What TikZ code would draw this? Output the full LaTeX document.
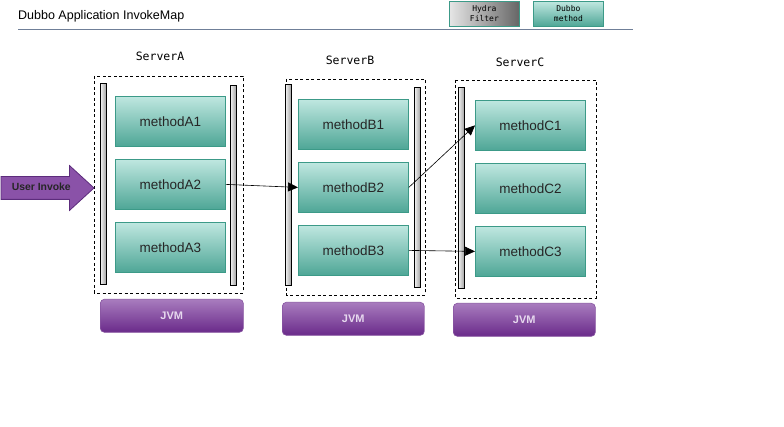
\documentclass[tikz,border=0pt]{standalone}
\usepackage{fontspec}
\setmainfont{Liberation Sans}
\newfontfamily\monofont{DejaVu Sans Mono}
\usetikzlibrary{positioning,shapes.arrows,arrows.meta}

\definecolor{methodtop}{HTML}{BFE7E0}
\definecolor{methodbot}{HTML}{4EA696}
\definecolor{methodline}{HTML}{3C9A88}
\definecolor{jvmtop}{HTML}{A87CBE}
\definecolor{jvmbot}{HTML}{6A2A8A}
\definecolor{jvmtext}{HTML}{E6D8EE}
\definecolor{invokefill}{HTML}{8A52A8}
\definecolor{invokeline}{HTML}{5C2C7C}
\definecolor{titleline}{HTML}{6F7F98}

\begin{document}
\begin{tikzpicture}[x=1pt,y=-1pt,
                    method node/.style={draw=methodline,line width=0.8pt,top color=methodtop,bottom color=methodbot,
                                        minimum width=110pt,minimum height=50pt,inner sep=0pt,anchor=north west,
                                        font=\fontsize{13.5}{16}\selectfont,text=black!85},
                    bar node/.style={draw=black,line width=0.8pt,left color=gray!10,right color=gray!75,
                                     minimum width=6pt,minimum height=201pt,inner sep=0pt,anchor=north west},
                    jvm node/.style={draw=jvmbot!80,line width=0.6pt,rounded corners=4pt,top color=jvmtop,bottom color=jvmbot,
                                     minimum width=142pt,minimum height=33pt,inner sep=0pt,anchor=north west,
                                     font=\fontsize{11}{13}\selectfont\bfseries,text=jvmtext},
                    server box/.style={draw=black,line width=0.8pt,dash pattern=on 3pt off 2.5pt},
                    server label/.style={font=\monofont\fontsize{11.5}{13}\selectfont},
                    legend node/.style={draw=methodline,line width=0.8pt,minimum width=70pt,minimum height=25pt,inner sep=0pt,
                                        anchor=north west,align=center,font=\monofont\fontsize{8}{10}\selectfont},
                    call/.style={draw=black,line width=0.6pt,-{Triangle[length=10pt,width=9pt]}}]

  \useasboundingbox (0,0) rectangle (784,427);

  % header
  \node[anchor=west,inner sep=0pt,font=\fontsize{12.5}{15}\selectfont] (title) at (18,16) {Dubbo Application InvokeMap};
  \draw[titleline,line width=0.8pt] (18,29) -- (633,29);
  \node[legend node,left color=gray!20,right color=gray!80!black] (hydra) at (449,1) {Hydra\\Filter};
  \node[legend node,top color=methodtop,bottom color=methodbot] (dubbo) at (533,1) {Dubbo\\method};

  % ServerA
  \node[server label] (labelA) at (160,56) {ServerA};
  \draw[server box] (94,76) rectangle (243,293);
  \node[bar node] (barA1) at (100,83) {};
  \node[bar node,minimum height=200pt] (barA2) at (230,85) {};
  \node[method node] (A1) at (115,96) {methodA1};
  \node[method node] (A2) at (115,159) {methodA2};
  \node[method node] (A3) at (115,222) {methodA3};
  \node[jvm node,minimum width=143pt] (jvmA) at (100,299) {JVM};

  % ServerB
  \node[server label] (labelB) at (350,60) {ServerB};
  \draw[server box] (286,79) rectangle (425,295);
  \node[bar node] (barB1) at (285,84) {};
  \node[bar node,minimum height=200pt] (barB2) at (414,87) {};
  \node[method node] (B1) at (298,99) {methodB1};
  \node[method node] (B2) at (298,162) {methodB2};
  \node[method node] (B3) at (298,225) {methodB3};
  \node[jvm node] (jvmB) at (282,302) {JVM};

  % ServerC
  \node[server label] (labelC) at (520,62) {ServerC};
  \draw[server box] (455,80) rectangle (596,298);
  \node[bar node] (barC1) at (458,87) {};
  \node[method node] (C1) at (475,100) {methodC1};
  \node[method node] (C2) at (475,163) {methodC2};
  \node[method node] (C3) at (475,226) {methodC3};
  \node[jvm node] (jvmC) at (453,303) {JVM};

  % user invoke
  \node[single arrow,draw=invokeline,line width=0.8pt,fill=invokefill,outer sep=0pt,inner xsep=2pt,inner ysep=6pt,
        text height=7.5pt,text depth=2.5pt,minimum width=44pt,minimum height=93pt,
        single arrow head extend=11pt,single arrow tip angle=85,
        anchor=tail,font=\fontsize{10.4}{12}\selectfont\bfseries,text=black!85] (user) at (1,188) {User Invoke};

  % calls
  \draw[call] (A2.east) -- (B2.west);
  \draw[call] (B2.east) -- (C1.west);
  \draw[call] (B3.east) -- (C3.west);

\end{tikzpicture}
\end{document}
